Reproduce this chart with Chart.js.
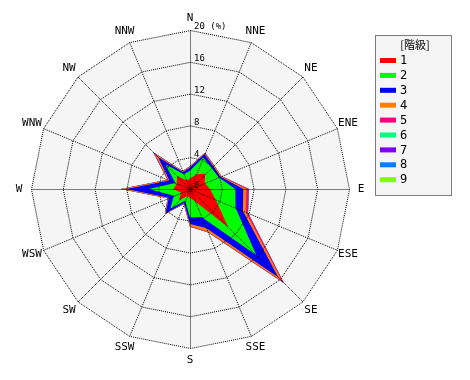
<!DOCTYPE html>
<html>
<head>
<meta charset="utf-8">
<script src="https://cdn.jsdelivr.net/npm/chart.js@4.4.1/dist/chart.umd.min.js"></script>
<style>
  html, body { margin: 0; padding: 0; background: #fff; }
  canvas { display: block; }
</style>
</head>
<body>
<canvas id="rose" width="470" height="380"></canvas>
<script>
// wind directions, clockwise from north
const directions = ['N', 'NNE', 'NE', 'ENE', 'E', 'ESE', 'SE', 'SSE', 'S', 'SSW', 'SW', 'WSW', 'W', 'WNW', 'NW', 'NNW'];

// wind speed classes (階級) and their colours
const classNames = ['1', '2', '3', '4', '5', '6', '7', '8', '9'];
const classColors = ['#ff0000', '#00ff00', '#0000ff', '#ff8000', '#ff0080', '#00ff80', '#8000ff', '#0080ff', '#80ff00'];

// frequency (%) of each class per direction
const class1 = [1.3, 2.0, 2.7, 2.0, 2.5, 3.5, 6.8, 1.7, 1.1, 1.0, 2.0, 1.2, 2.1, 1.8, 2.3, 1.2];
const class2 = [1.0, 2.3, 1.1, 1.9, 3.2, 2.7, 5.0, 2.1, 2.5, 0.6, 1.5, 1.0, 3.1, 0.2, 2.1, 0.8];
const class3 = [0.4, 0.45, 0.3, 0.2, 1.0, 1.0, 3.9, 1.5, 0.8, 0.3, 0.8, 0.7, 2.8, 0.8, 1.3, 0.3];
const class4 = [0.1, 0.1, 0.1, 0.1, 0.4, 0.4, 0.7, 0.5, 0.3, 0.1, 0.1, 0.1, 0.6, 0.15, 0.5, 0.1];
const class5 = [0.05, 0.1, 0.05, 0.05, 0.3, 0.3, 0.3, 0.1, 0.05, 0.05, 0.05, 0.05, 0.1, 0.1, 0.3, 0.05];
const class6 = [0, 0, 0, 0, 0, 0, 0, 0, 0, 0, 0, 0, 0, 0, 0.05, 0];
const class7 = [0, 0, 0, 0, 0, 0, 0, 0, 0, 0, 0, 0, 0, 0, 0, 0];
const class8 = [0, 0, 0, 0, 0, 0, 0, 0, 0, 0, 0, 0, 0, 0, 0, 0];
const class9 = [0, 0, 0, 0, 0, 0, 0, 0, 0, 0, 0, 0, 0, 0, 0, 0];

// radial axis
const radiusTicks = [0, 4, 8, 12, 16, 20];
const radiusUnit = '(%)';
const legendTitle = '[階級]';

const classes = [class1, class2, class3, class4, class5, class6, class7, class8, class9];

// stack the classes: each polygon is the running total, class 1 drawn on top
let running = directions.map(() => 0);
const datasets = classes.map((vals, k) => {
  running = running.map((s, i) => s + vals[i]);
  return {
    label: classNames[k],
    data: running.slice(),
    backgroundColor: classColors[k],
    borderWidth: 0,
    pointRadius: 0,
    fill: 'origin'
  };
});

const monoFont = '"DejaVu Sans Mono", "Liberation Mono", monospace';

const roseDecor = {
  id: 'roseDecor',
  beforeDatasetsDraw(chart) {
    const r = chart.scales.r;
    const ctx = chart.ctx;
    ctx.save();
    ctx.fillStyle = '#f5f5f5';
    ctx.beginPath();
    directions.forEach((d, i) => {
      const p = r.getPointPosition(i, r.drawingArea);
      if (i === 0) ctx.moveTo(p.x, p.y); else ctx.lineTo(p.x, p.y);
    });
    ctx.closePath();
    ctx.fill();
    ctx.restore();
  },
  afterDatasetsDraw(chart) {
    // half-pixel shift so the dotted grid drawn next lands on whole pixels
    chart.ctx.save();
    chart.ctx.translate(0.5, 0.5);
  },
  afterDraw(chart) {
    chart.ctx.restore();
    const r = chart.scales.r;
    const ctx = chart.ctx;
    ctx.save();
    ctx.fillStyle = '#000';

    // direction labels
    ctx.font = '11px ' + monoFont;
    ctx.textAlign = 'center';
    ctx.textBaseline = 'middle';
    directions.forEach((d, i) => {
      const p = r.getPointPosition(i, r.drawingArea + 12);
      ctx.fillText(d, p.x, p.y);
    });

    // radius tick labels along the north spoke
    ctx.font = '9px ' + monoFont;
    ctx.textAlign = 'left';
    radiusTicks.forEach((v, i) => {
      const y = r.yCenter - r.getDistanceFromCenterForValue(v);
      const txt = i === radiusTicks.length - 1 ? v + ' ' + radiusUnit : String(v);
      ctx.fillText(txt, r.xCenter + 4, y - 3);
    });

    // legend box
    const bx = 375, by = 35, bw = 76, bh = 160;
    ctx.fillStyle = '#f5f5f5';
    ctx.fillRect(bx, by, bw, bh);
    ctx.strokeStyle = '#000';
    ctx.lineWidth = 1;
    ctx.setLineDash([1, 1]);
    ctx.strokeRect(bx + 0.5, by + 0.5, bw, bh);
    ctx.setLineDash([]);
    ctx.fillStyle = '#000';
    ctx.font = '11px "Noto Sans CJK JP", ' + monoFont;
    ctx.textAlign = 'center';
    ctx.fillText(legendTitle, bx + bw / 2 + 2, by + 10);
    ctx.font = '12px ' + monoFont;
    ctx.textAlign = 'left';
    classNames.forEach((name, k) => {
      const y = by + 25 + k * 14.9;
      ctx.fillStyle = classColors[k];
      ctx.fillRect(bx + 5, y - 2, 16, 5);
      ctx.fillStyle = '#000';
      ctx.fillText(name, bx + 25, y + 1);
    });
    ctx.restore();
  }
};

new Chart(document.getElementById('rose'), {
  type: 'radar',
  data: { labels: directions, datasets: datasets },
  options: {
    responsive: false,
    animation: false,
    layout: { padding: { left: 31, top: 30, right: 121, bottom: 32 } },
    elements: { line: { tension: 0 } },
    plugins: {
      legend: { display: false },
      tooltip: { enabled: false }
    },
    scales: {
      r: {
        min: 0,
        max: 20,
        ticks: { stepSize: 4, display: false },
        pointLabels: { display: false },
        grid: { color: '#000', lineWidth: 1, circular: false, z: 1 },
        border: { dash: [1, 1] },
        angleLines: { color: '#000', lineWidth: 1, borderDash: [1, 1] }
      }
    }
  },
  plugins: [roseDecor]
});
</script>
</body>
</html>
